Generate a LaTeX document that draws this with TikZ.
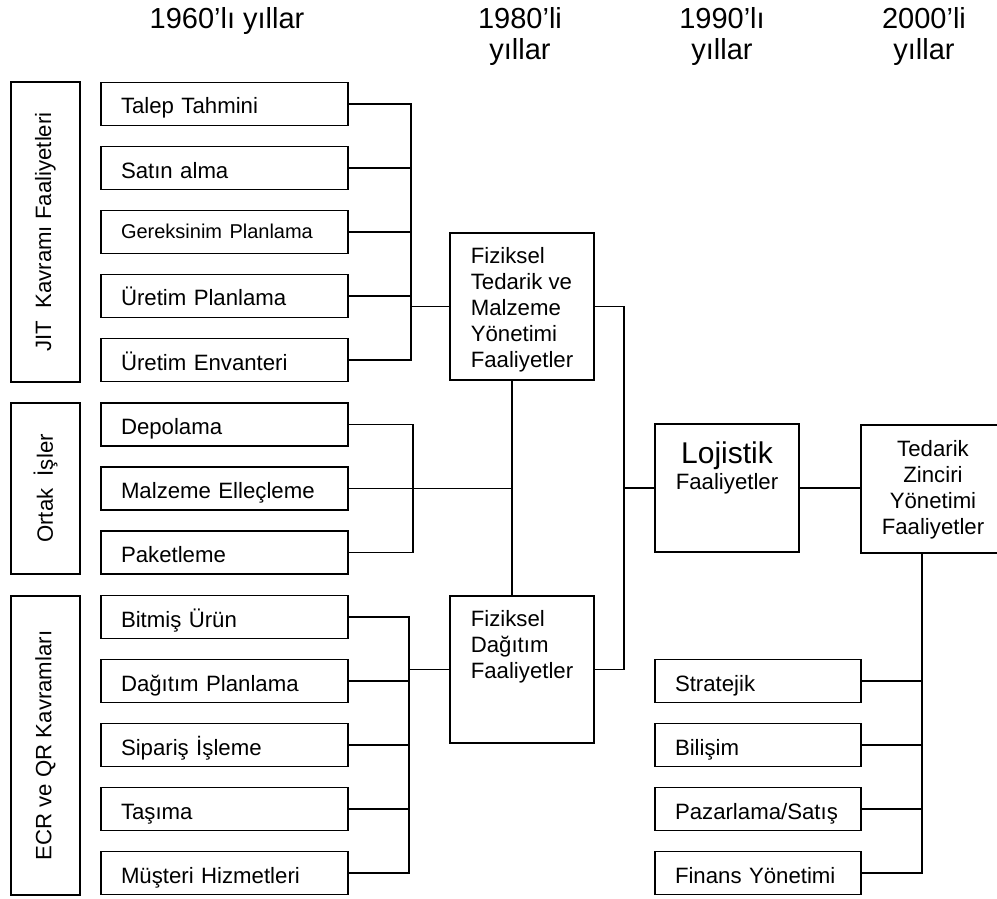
\documentclass[tikz,border=0pt]{standalone}
\usepackage{fontspec}
\setmainfont{Liberation Sans}
\usepackage{tikz}
\usetikzlibrary{positioning}
\tikzset{
  actbox/.style={rectangle, draw, line width=0.9pt, minimum width=123.5pt, minimum height=21.5pt,
    text width=103.5pt, inner xsep=10pt, align=left, text height=10pt, text depth=0pt,
    font=\fontsize{11.1}{13}\selectfont},
  rightbox/.style={actbox, minimum width=103pt, text width=83pt},
  sidebox/.style={rectangle, draw, line width=0.9pt, rotate=90, minimum height=34.5pt,
    font=\fontsize{11.1}{13}\selectfont},
  midbox/.style={rectangle, draw, line width=0.9pt, minimum width=72pt, minimum height=73.5pt,
    align=left, text height=60.5pt, text depth=0pt, font=\fontsize{11.1}{13}\selectfont},
  endbox/.style={midbox, minimum height=64pt, align=center},
  yearlbl/.style={align=center, anchor=base, font=\fontsize{14.5}{15.5}\selectfont},
  link/.style={line width=0.9pt}
}

\begin{document}
\begin{tikzpicture}[x=0.5pt, y=-0.5pt]
  \useasboundingbox (0,0) rectangle (997,899);
  \clip (0,0) rectangle (997,899);
  % Decades
  \node[yearlbl] (y60) at (227,29) {1960’lı yıllar};
  \node[yearlbl] (y80) at (520,60) {1980’li\\yıllar};
  \node[yearlbl] (y90) at (722,60) {1990’lı\\yıllar};
  \node[yearlbl] (y00) at (924,60) {2000’li\\yıllar};
  % Side groups
  \node[sidebox, minimum width=150pt] (jit) at (45.5,232) {JIT\ \ Kavramı Faaliyetleri};
  \node[sidebox, minimum width=85.5pt] (ortak) at (45.5,488.5) {Ortak\ \ İşler};
  \node[sidebox, minimum width=149.5pt] (ecr) at (45.5,745.5) {ECR ve QR Kavramları};
  % 1960s activities
  \node[actbox] (talep) at (224.5,104) {Talep Tahmini};
  \node[actbox] (satin) at (224.5,168) {Satın alma};
  \node[actbox, text height=7pt] (gerek) at (224.5,232) {{\fontsize{10}{12}\selectfont Gereksinim Planlama}};
  \node[actbox] (uretp) at (224.5,296) {Üretim Planlama};
  \node[actbox] (uretenv) at (224.5,360) {Üretim Envanteri};
  \node[actbox] (depo) at (224.5,424.5) {Depolama};
  \node[actbox] (malz) at (224.5,488.5) {Malzeme Elleçleme};
  \node[actbox] (paket) at (224.5,552.5) {Paketleme};
  \node[actbox] (bitmis) at (224.5,617) {Bitmiş Ürün};
  \node[actbox] (dagp) at (224.5,681) {Dağıtım Planlama};
  \node[actbox] (siparis) at (224.5,745) {Sipariş İşleme};
  \node[actbox] (tasima) at (224.5,809) {Taşıma};
  \node[actbox] (musteri) at (224.5,873) {Müşteri Hizmetleri};
  % 1980s - 2000s
  \node[midbox] (fiztedarik) at (522,306.5) {Fiziksel\\Tedarik ve\\Malzeme\\Yönetimi\\Faaliyetler};
  \node[midbox, text height=9pt] (fizdagitim) at (522,669.5) {Fiziksel\\Dağıtım\\Faaliyetler};
  \node[endbox, text height=1pt] (lojistik) at (727,488) {{\fontsize{15}{15}\selectfont Lojistik}\\Faaliyetler};
  \node[endbox, text height=45pt] (tzy) at (933,489) {Tedarik\\Zinciri\\Yönetimi\\Faaliyetler};
  % SCM parts
  \node[rightbox] (strat) at (758,681) {Stratejik};
  \node[rightbox] (bilisim) at (758,745) {Bilişim};
  \node[rightbox] (pazar) at (758,809) {Pazarlama/Satış};
  \node[rightbox] (finans) at (758,873) {Finans Yönetimi};
  % Bus points
  \coordinate (jitbus) at (411,232);
  \coordinate (ortbus) at (413,488.5);
  \coordinate (ecrbus) at (409,745);
  \coordinate (fizlink) at ([xshift=-5pt]fiztedarik.south);
  \coordinate (midbus) at (624,488);
  \coordinate (tzybus) at ([xshift=-5.5pt]tzy.south);
  % JIT group
  \draw[link] (talep.east) -| (jitbus |- uretenv.east) -- (uretenv.east);
  \draw[link] (satin.east) -- (satin.east -| jitbus);
  \draw[link] (gerek.east) -- (gerek.east -| jitbus);
  \draw[link] (uretp.east) -- (uretp.east -| jitbus);
  \draw[link] (jitbus |- fiztedarik.west) -- (fiztedarik.west);
  % Common group
  \draw[link] (depo.east) -| (ortbus |- paket.east) -- (paket.east);
  \draw[link] (malz.east) -- (malz.east -| fizlink);
  \draw[link] (fizlink) -- (fizlink |- fizdagitim.north);
  % ECR group
  \draw[link] (bitmis.east) -| (ecrbus |- musteri.east) -- (musteri.east);
  \draw[link] (dagp.east) -- (dagp.east -| ecrbus);
  \draw[link] (siparis.east) -- (siparis.east -| ecrbus);
  \draw[link] (tasima.east) -- (tasima.east -| ecrbus);
  \draw[link] (ecrbus |- fizdagitim.west) -- (fizdagitim.west);
  % To logistics and SCM
  \draw[link] (fiztedarik.east) -| (midbus |- fizdagitim.east) -- (fizdagitim.east);
  \draw[link] (midbus |- lojistik.west) -- (lojistik.west);
  \draw[link] (lojistik.east) -- (lojistik.east -| tzy.west);
  \draw[link] (tzybus) |- (finans.east);
  \draw[link] (strat.east) -- (strat.east -| tzybus);
  \draw[link] (bilisim.east) -- (bilisim.east -| tzybus);
  \draw[link] (pazar.east) -- (pazar.east -| tzybus);
\end{tikzpicture}
\end{document}
